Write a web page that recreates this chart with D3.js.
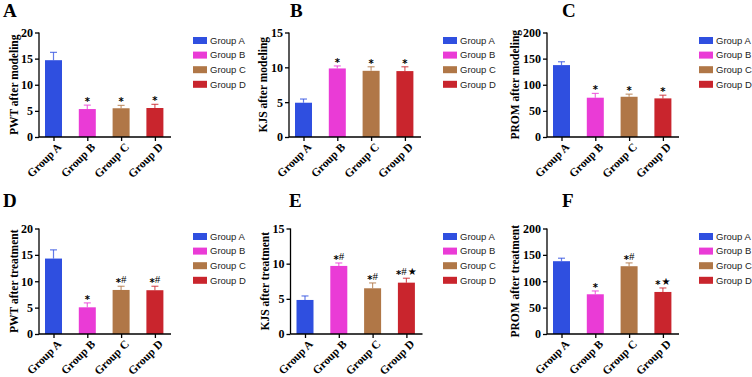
<!DOCTYPE html>
<html><head><meta charset="utf-8">
<script src="https://cdn.jsdelivr.net/npm/d3@7"></script>
<style>body{margin:0;background:#fff}svg{display:block}text{font-variant-emoji:text}</style>
</head><body><svg id="c" width="752" height="377"></svg>
<script>
const groups = ["Group A","Group B","Group C","Group D"];
const colors = ["#2f4fe0","#ea3bd6","#b07747","#c9252d"];
const panelLetters = ["A","B","C","D","E","F"];
const yTitles = ["PWT after modeling","KJS after modeling","PROM after modeling","PWT after treatment","KJS after treatment","PROM after treatment"];
const yMax = [20,15,200,20,15,200];
const yTicks = [[0,5,10,15,20],[0,5,10,15],[0,50,100,150,200],[0,5,10,15,20],[0,5,10,15],[0,50,100,150,200]];
const meansA = [14.7,5.35,5.5,5.55];
const errsA  = [1.5,0.75,0.55,0.7];
const meansB = [4.92,9.84,9.5,9.46];
const errsB  = [0.53,0.36,0.58,0.62];
const meansC = [137.6,75.2,77,73.9];
const errsC  = [6.4,8.2,5,6.1];
const meansD = [14.3,5.06,8.35,8.3];
const errsD  = [1.65,0.84,0.7,0.75];
const meansE = [4.84,9.68,6.5,7.3];
const errsE  = [0.57,0.42,0.76,0.63];
const meansF = [138,75.3,128.5,79.7];
const errsF  = [5.7,6.3,6.3,7.6];
const marksA = ["","*","*","*"];
const marksB = ["","*","*","*"];
const marksC = ["","*","*","*"];
const marksD = ["","*","*#","*#"];
const marksE = ["","*#","*#","*#★"];
const marksF = ["","*","*#","*★"];
const allMeans = [meansA,meansB,meansC,meansD,meansE,meansF];
const allErrs = [errsA,errsB,errsC,errsD,errsE,errsF];
const allMarks = [marksA,marksB,marksC,marksD,marksE,marksF];

const svg = d3.select("#c");
const serif = "'Liberation Serif','Times New Roman',serif";
const axX = [39,289,547,39,290.5,547];
const axTop = [32.5,32.5,32.5,228.5,228.5,228.5];
const axBot = [137,137,137,334,334,334];
const letterX = [3,290,562,3,289,562];
const letterY = [17,17,17,207,207,207];
const titleX = [14,263,515,14,265,515];
const legendX = [193,443,699,193,443,699];

for (let p=0;p<6;p++){
  const g = svg.append("g");
  const x0 = axX[p];
  const y = d3.scaleLinear().domain([0,yMax[p]]).range([axBot[p],axTop[p]]);
  const x = d3.scalePoint().domain(groups).range([x0+14.5, x0+14.5+3*33.8]);
  const bw = 17;
  const means = allMeans[p], errs = allErrs[p], marks = allMarks[p];
  groups.forEach((gname,i)=>{
    const cx = x(gname);
    g.append("rect").attr("x",cx-bw/2).attr("width",bw)
      .attr("y",y(means[i])).attr("height",y(0)-y(means[i])).attr("fill",colors[i]);
    const yt = y(means[i]+errs[i]);
    g.append("line").attr("x1",cx).attr("x2",cx).attr("y1",y(means[i])).attr("y2",yt)
      .attr("stroke",colors[i]).attr("stroke-opacity",0.75).attr("stroke-width",1.2);
    g.append("line").attr("x1",cx-3.5).attr("x2",cx+3.5).attr("y1",yt).attr("y2",yt)
      .attr("stroke",colors[i]).attr("stroke-opacity",0.75).attr("stroke-width",1.2);
    if (marks[i]) {
      const t = g.append("text").attr("x",cx).attr("y",yt-3).attr("text-anchor","middle")
        .attr("font-family",serif).attr("font-size",11).attr("fill","#000");
      let shifted = false;
      for (const ch of marks[i]) {
        if (ch==="*") { t.append("tspan").attr("font-family","'DejaVu Sans',sans-serif").attr("font-weight","bold").attr("font-size",10).attr("fill","#000").attr("dy",3).text("*\uFE0E"); shifted = true; }
        else {
          const ts = t.append("tspan").attr("dy", shifted ? -3 : 0).attr("fill","#000");
          shifted = false;
          if (ch==="★") ts.attr("font-family","'DejaVu Sans',sans-serif").attr("font-size",10).attr("dx",1).text("★\uFE0E");
          else ts.attr("font-family",serif).text(ch+"\uFE0E");
        }
      }
    }
  });
  const ya = g.append("g").attr("transform",`translate(${x0},0)`)
    .call(d3.axisLeft(y).tickValues(yTicks[p]).tickSize(4).tickPadding(2));
  ya.select(".domain").attr("d",`M0,${axTop[p]}V${axBot[p]}`).attr("stroke-width",1.3);
  ya.selectAll(".tick line").attr("stroke-width",1.3);
  ya.selectAll("text").attr("font-family",serif).attr("font-weight","bold").attr("font-size",12).attr("fill","#000");
  const xa = g.append("g").attr("transform",`translate(0,${axBot[p]})`)
    .call(d3.axisBottom(x).tickSize(4).tickFormat(""));
  xa.select(".domain").attr("d",`M${x0},0H${x0+132}`).attr("stroke-width",1.3);
  xa.selectAll(".tick line").attr("stroke-width",1.3);
  groups.forEach(gname=>{
    g.append("text").attr("transform",`translate(${x(gname)+3},${axBot[p]+5}) rotate(-45)`)
      .attr("text-anchor","end").attr("dy","0.7em")
      .attr("font-family",serif).attr("font-weight","bold").attr("font-size",11.5).text(gname);
  });
  g.append("text").attr("transform",`translate(${titleX[p]},${(axTop[p]+axBot[p])/2}) rotate(-90)`)
    .attr("text-anchor","middle").attr("dy","0.35em").attr("font-family",serif).attr("font-weight","bold")
    .attr("font-size",11.5).text(yTitles[p]);
  g.append("text").attr("x",letterX[p]).attr("y",letterY[p]).attr("font-family",serif)
    .attr("font-weight","bold").attr("font-size",19).text(panelLetters[p]);
  groups.forEach((gname,i)=>{
    const ly = axTop[p]+8+i*14.6;
    g.append("rect").attr("x",legendX[p]).attr("y",ly-3.5).attr("width",14).attr("height",7).attr("fill",colors[i]);
    g.append("text").attr("x",legendX[p]+17).attr("y",ly).attr("dy","0.35em").attr("font-family","'Liberation Sans',Arial,sans-serif")
      .attr("font-size",9.5).attr("fill","#222").text(gname);
  });
}
</script></body></html>
